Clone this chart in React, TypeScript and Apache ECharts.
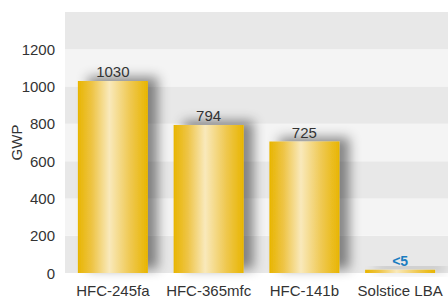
import React, { useEffect, useRef } from "react";
import * as echarts from "echarts";

const categories = ["HFC-245fa", "HFC-365mfc", "HFC-141b", "Solstice LBA"];
const barValues = [1030, 794, 705, 18];
const labelTexts = ["1030", "794", "725", "<5"];
const yTicks = [0, 200, 400, 600, 800, 1000, 1200];

export default function App() {
  const ref = useRef<HTMLDivElement>(null);
  useEffect(() => {
    if (!ref.current) return;
    const chart = echarts.init(ref.current, null, { renderer: "svg" });
    const font = "'Liberation Sans', Arial, sans-serif";
    const gold = new echarts.graphic.LinearGradient(0, 0, 1, 0, [
      { offset: 0, color: "#e8b500" },
      { offset: 0.2, color: "#eec445" },
      { offset: 0.45, color: "#f9e9bb" },
      { offset: 0.75, color: "#efc850" },
      { offset: 1, color: "#e8b500" },
    ]);
    chart.setOption({
      animation: false,
      grid: { left: 65, right: 0, top: 12, bottom: 25, containLabel: false, outerBoundsMode: "none" },
      xAxis: {
        type: "category",
        data: categories,
        axisLine: { show: false },
        axisTick: { show: false },
        axisLabel: { color: "#333", fontSize: 15, fontFamily: font, margin: 10, interval: 0 },
      },
      yAxis: {
        type: "value",
        min: 0,
        max: 1400,
        interval: 200,
        name: "GWP",
        nameLocation: "middle",
        nameGap: 41,
        nameMoveOverlap: false,
        nameTextStyle: { color: "#333", fontSize: 15, fontFamily: font },
        axisLine: { show: false },
        axisTick: { show: false },
        splitLine: { show: false },
        splitArea: { show: true, areaStyle: { color: ["#e8e8e8", "#f4f4f4"] } },
        axisLabel: {
          color: "#333",
          fontSize: 15,
          fontFamily: font,
          margin: 10,
          formatter: (v: number) => (yTicks.includes(v) ? String(v) : ""),
        },
      },
      series: [
        {
          type: "bar",
          barWidth: 70,
          data: barValues.map((v, i) => ({
            value: v,
            label: {
              show: true,
              position: "top",
              distance: 2,
              formatter: labelTexts[i],
              fontFamily: font,
              fontSize: i === 3 ? 14 : 15,
              fontWeight: i === 3 ? "bold" : "normal",
              color: i === 3 ? "#1b7dc0" : "#333",
            },
          })),
          itemStyle: {
            color: gold,
            shadowColor: "rgba(0,0,0,0.45)",
            shadowBlur: 12,
            shadowOffsetX: 10,
            shadowOffsetY: -4,
          },
        },
      ],
    });
    return () => chart.dispose();
  }, []);
  return <div ref={ref} style={{ width: 448, height: 298, position: "absolute", left: 0, top: 0 }} />;
}
